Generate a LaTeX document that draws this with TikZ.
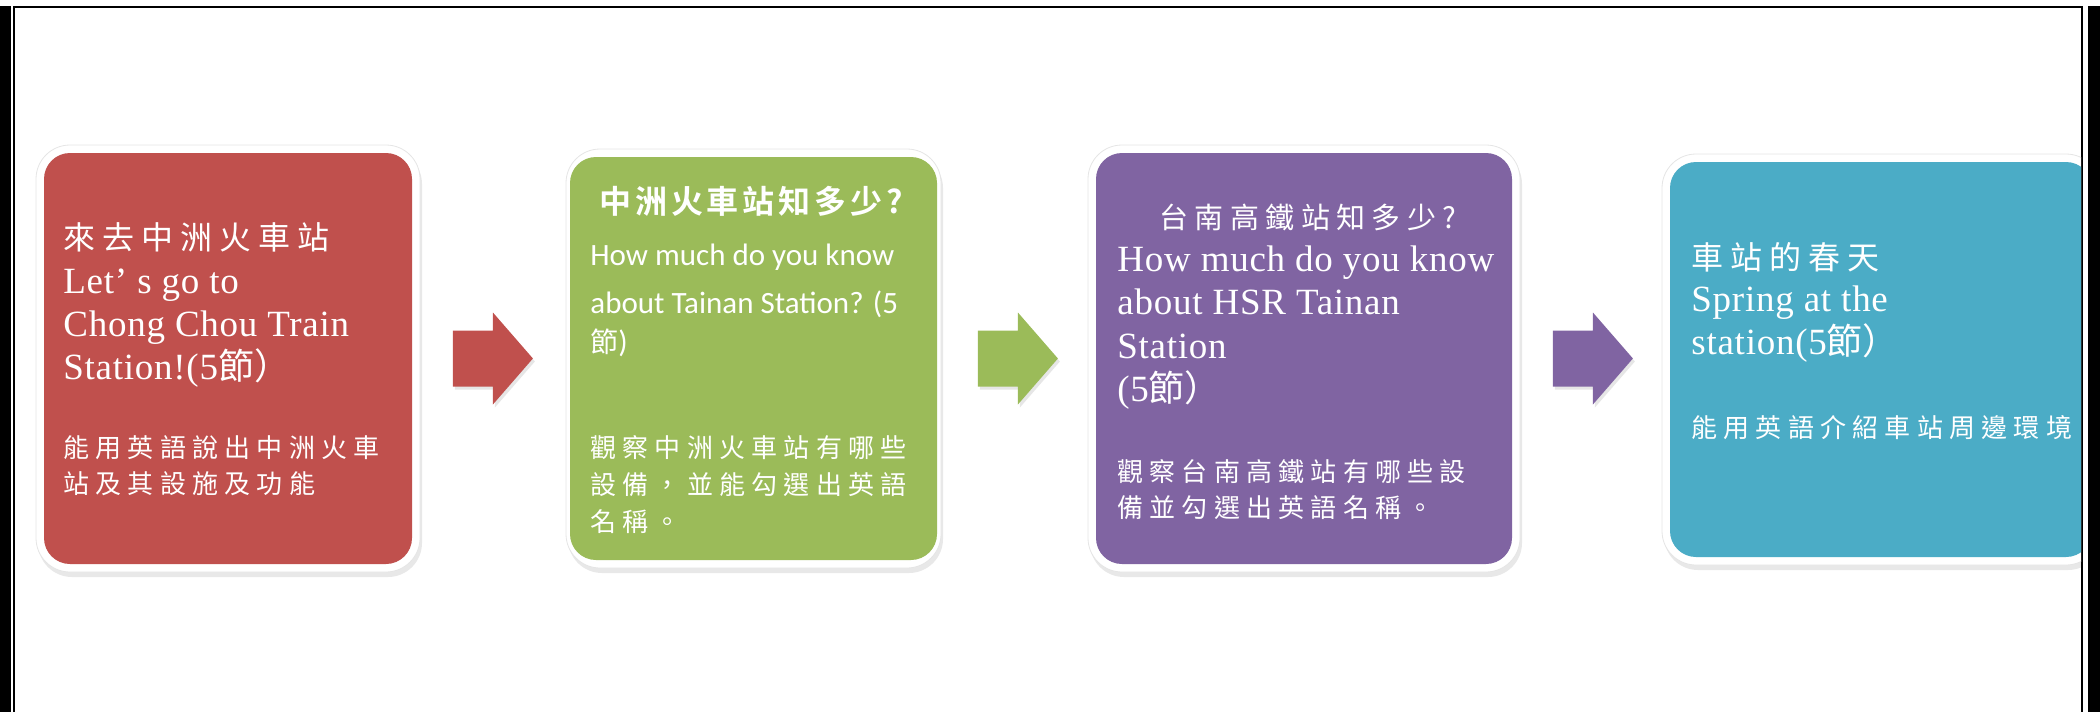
\documentclass[tikz,border=0pt]{standalone}
\usepackage{fontspec}
\setmainfont{Liberation Serif}[LetterSpace=2]
\newfontfamily\cjk{Noto Sans CJK TC}[LetterSpace=24]
\newfontfamily\cjkT{Noto Sans CJK TC}[LetterSpace=22]
\newfontfamily\cjkn{Noto Sans CJK TC}
\newfontfamily\cjkb{Noto Sans CJK TC Bold}[LetterSpace=12]
\newfontfamily\calib{Carlito}
\usetikzlibrary{calc,shadows}
\definecolor{redc}{HTML}{C0504D}
\definecolor{greenc}{HTML}{9BBB59}
\definecolor{purplec}{HTML}{8064A2}
\definecolor{bluec}{HTML}{4BACC6}
\newcommand\ming[1]{{\cjkn\fontsize{18pt}{20pt}\selectfont #1}}
\tikzset{
  outerbox/.style={rectangle, rounded corners=17pt, fill=white, draw=black!10, line width=0.4pt, inner sep=0pt,
    drop shadow={shadow xshift=1pt, shadow yshift=-2.5pt, opacity=0.18}},
  innerbox/.style={rectangle, rounded corners=13pt, inner sep=0pt, draw=none},
  blockarrow/.style={drop shadow={shadow xshift=1pt, shadow yshift=-1.5pt, opacity=0.2}},
  txt/.style={anchor=base west, inner sep=0pt, text=white},
  lat/.style={txt, font=\fontsize{18.5pt}{22pt}\selectfont},
  ctitle/.style={txt, font=\cjkT\fontsize{16pt}{18pt}\selectfont},
  cdesc/.style={txt, font=\cjk\fontsize{13pt}{15pt}\selectfont},
  carl/.style={txt, font=\calib\fontsize{15.5pt}{18pt}\selectfont},
  frameline/.style={line width=1pt, black},
}
\begin{document}
\begin{tikzpicture}[x=0.5pt, y=-0.5pt]
\useasboundingbox (0,0) rectangle (2100,712);
% page frame
\fill[black] (0,6) rectangle (11,712);
\fill[black] (2088,6) rectangle (2100,712);
\draw[frameline] (14,7) -- (14,712);
\draw[frameline] (13,7) -- (2083,7);
\draw[frameline] (2082,7) -- (2082,712);

% boxes
\node[outerbox, minimum width=192pt, minimum height=213.5pt] (Ro) at (228,358.5) {};
\node[innerbox, fill=redc, minimum width=184pt, minimum height=205.5pt] (R) at (Ro.center) {};
\node[outerbox, minimum width=187.5pt, minimum height=209.5pt] (Go) at (753.5,358.5) {};
\node[innerbox, fill=greenc, minimum width=183.5pt, minimum height=201.5pt] (G) at (Go.center) {};
\node[outerbox, minimum width=216pt, minimum height=213.5pt] (Po) at (1304,358.5) {};
\node[innerbox, fill=purplec, minimum width=208pt, minimum height=205.5pt] (P) at (Po.center) {};
\begin{scope}
\clip (0,0) rectangle (2081,712);
\node[outerbox, minimum width=219pt, minimum height=205.5pt] (Bo) at (1881,359.5) {};
\node[innerbox, fill=bluec, minimum width=211pt, minimum height=197.5pt] (B) at (Bo.center) {};
\end{scope}

% block arrows
\coordinate (A1) at ($(R.east)+(40.5,0)$);
\coordinate (A2) at ($(G.east)+(40.5,0)$);
\coordinate (A3) at ($(P.east)+(40.5,0)$);
\fill[redc, blockarrow] (A1) ++(0,-28) -- ++(40,0) -- ++(0,-18) -- ++(40,46) -- ++(-40,46) -- ++(0,-18) -- ++(-40,0) -- cycle;
\fill[greenc, blockarrow] (A2) ++(0,-28) -- ++(40,0) -- ++(0,-18) -- ++(40,46) -- ++(-40,46) -- ++(0,-18) -- ++(-40,0) -- cycle;
\fill[purplec, blockarrow] (A3) ++(0,-28) -- ++(40,0) -- ++(0,-18) -- ++(40,46) -- ++(-40,46) -- ++(0,-18) -- ++(-40,0) -- cycle;

% red box text
\node[ctitle] (r1) at (63,249) {來去中洲火車站};
\node[lat] (r2) at (63,293) {Let’ s go to};
\node[lat] (r3) at (63,336) {Chong Chou Train};
\node[lat] (r4) at (63,379) {Station!(5\ming{節）}};
\node[cdesc] (r5) at (63,457) {能用英語說出中洲火車};
\node[cdesc] (r6) at (63,493) {站及其設施及功能};

% green box text
\node[txt, anchor=base, font=\cjkb\fontsize{16pt}{18pt}\selectfont] (g1) at (751,213) {中洲火車站知多少?};
\node[carl] (g2) at (590,265) {How much do you know};
\node[carl] (g3) at (590,313) {about Tainan Station? (5};
\node[carl] (g4) at (590,352) {{\cjkn\fontsize{14pt}{16pt}\selectfont 節})};
\node[cdesc] (g5) at (590,457) {觀察中洲火車站有哪些};
\node[cdesc] (g6) at (590,494) {設備，並能勾選出英語};
\node[cdesc] (g7) at (590,531) {名稱。};

% purple box text
\node[txt, anchor=base, font=\cjkT\fontsize{14.5pt}{16pt}\selectfont] (p1) at (1308,228) {台南高鐵站知多少?};
\node[lat] (p2) at (1117,271) {How much do you know};
\node[lat] (p3) at (1117,314) {about HSR Tainan};
\node[lat] (p4) at (1117,358) {Station};
\node[lat] (p5) at (1117,401) {(5\ming{節）}};
\node[cdesc] (p6) at (1117,481) {觀察台南高鐵站有哪些設};
\node[cdesc] (p7) at (1117,517) {備並勾選出英語名稱。};

% blue box text
\node[ctitle] (b1) at (1691,269) {車站的春天};
\node[lat] (b2) at (1691,311) {Spring at the};
\node[lat] (b3) at (1691,354) {station(5\ming{節）}};
\node[cdesc] (b4) at (1691,437) {能用英語介紹車站周邊環境};
\end{tikzpicture}
\end{document}
